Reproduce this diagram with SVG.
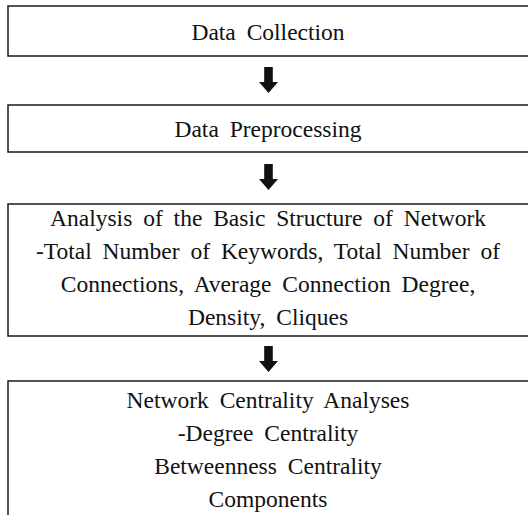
<svg xmlns="http://www.w3.org/2000/svg" width="528" height="515" viewBox="0 0 528 515">
  <style>
    .box { fill: #ffffff; stroke: #1a1a1a; stroke-width: 1.5; }
    .label { font-family: "Liberation Serif", "Times New Roman", serif; font-size: 23.5px; fill: #111111; text-anchor: middle; word-spacing: 5px; }
    .arrow { fill: #111111; }
  </style>
  <defs>
    <!-- block arrow pointing down, tip at origin -->
    <path id="down" d="M -4.3 -26 H 4.3 V -11 H 9.5 L 0 0 L -9.5 -11 H -4.3 Z"/>
  </defs>
  <rect width="528" height="515" fill="#ffffff"/>

  <g id="node-collection">
    <rect class="box" x="8" y="6" width="522" height="50"/>
    <text class="label" x="268" y="40">Data Collection</text>
  </g>

  <g id="node-preprocessing">
    <rect class="box" x="8" y="105" width="522" height="47"/>
    <text class="label" x="268" y="137">Data Preprocessing</text>
  </g>

  <g id="node-structure">
    <rect class="box" x="8" y="204" width="522" height="132"/>
    <text class="label" x="268" y="226">Analysis of the Basic Structure of Network</text>
    <text class="label" x="268" y="258.5">-Total Number of Keywords, Total Number of</text>
    <text class="label" x="268" y="291.5">Connections, Average Connection Degree,</text>
    <text class="label" x="268" y="324.5">Density, Cliques</text>
  </g>

  <g id="node-centrality">
    <rect class="box" x="8" y="381" width="522" height="150"/>
    <text class="label" x="268" y="408">Network Centrality Analyses</text>
    <text class="label" x="268" y="441">-Degree Centrality</text>
    <text class="label" x="268" y="474">Betweenness Centrality</text>
    <text class="label" x="268" y="507">Components</text>
  </g>

  <g id="connectors">
    <use class="arrow" href="#down" x="268.5" y="93"/>
    <use class="arrow" href="#down" x="268.5" y="190"/>
    <use class="arrow" href="#down" x="268.5" y="372"/>
  </g>
</svg>
